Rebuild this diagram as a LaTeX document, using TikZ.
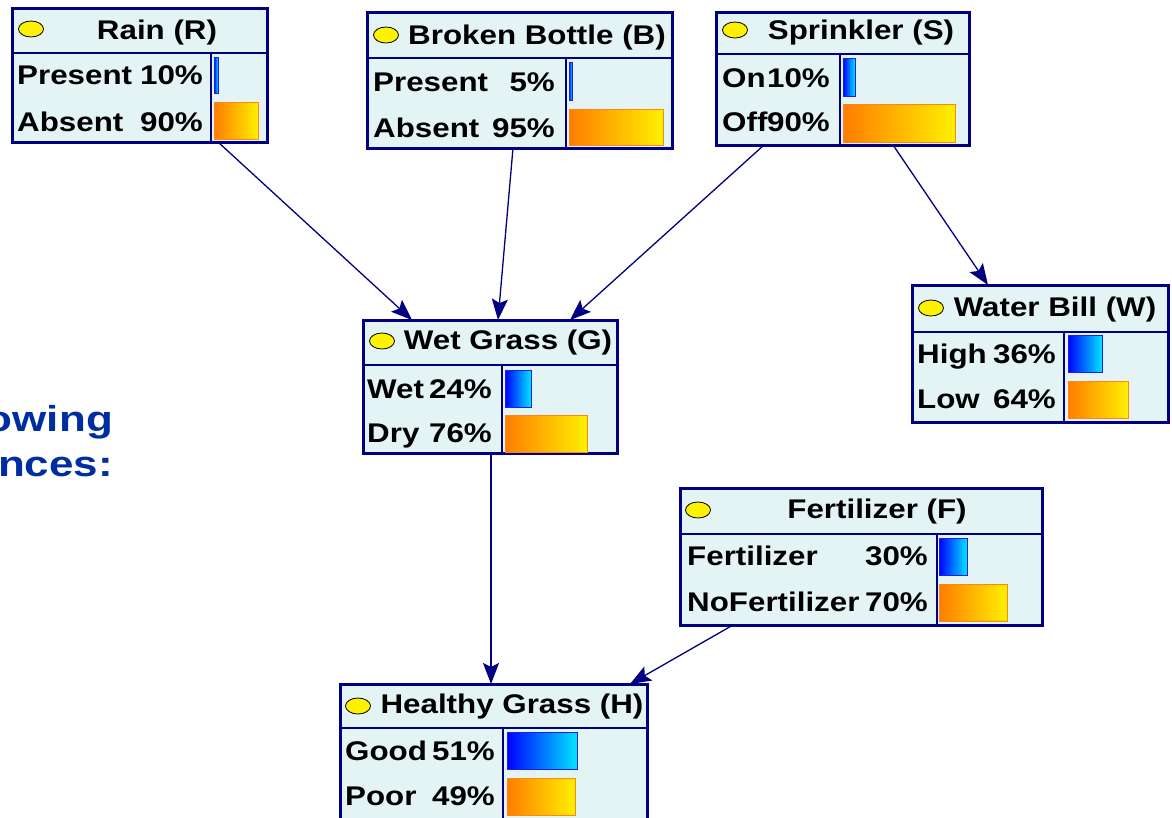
\documentclass[tikz,border=0pt]{standalone}
\usepackage{fontspec}
\usepackage{graphicx}
\setmainfont{Liberation Sans}
\usetikzlibrary{arrows.meta,shapes.geometric}

\definecolor{navy}{RGB}{0,0,128}
\definecolor{boxfill}{RGB}{228,244,244}
\definecolor{barblueA}{RGB}{0,0,255}
\definecolor{barblueB}{RGB}{0,230,255}
\definecolor{barblueE}{RGB}{30,30,230}
\definecolor{barorA}{RGB}{255,125,0}
\definecolor{barorB}{RGB}{255,240,0}
\definecolor{barorE}{RGB}{255,135,20}
\definecolor{slideblue}{RGB}{0,45,160}

\newcommand\netfont{\fontsize{27}{31}\selectfont\bfseries}
\newcommand\slidefont{\fontsize{36}{41}\selectfont\bfseries}
\newcommand\wide[1]{\scalebox{1.16}[1]{#1}}

% frame of a network node: name, x1, y1, x2, y2, title divider y, column divider x
\newcommand\netbox[7]{%
  \node[netframe, anchor=north west, minimum width={#4-#2}, minimum height={#5-#3}] (#1) at (#2,#3) {};
  \draw[divider] (#2,#6) -- (#4,#6);
  \draw[divider] (#7,#6) -- (#7,#5);
}
% one state row: name, label x, percent right x, baseline, label, percent
\newcommand\netrow[6]{%
  \node[lbl] (#1-l) at (#2,#4) {\wide{#5}};
  \node[pct] (#1-p) at (#3,#4) {\wide{#6}};
}

\begin{document}
\begin{tikzpicture}[x=1pt,y=-1pt,
  netframe/.style={draw=navy, line width=3pt, fill=boxfill, inner sep=0pt, outer sep=0pt},
  divider/.style={draw=navy, line width=1.5pt},
  lamp/.style={ellipse, draw=black, line width=0.8pt, fill=yellow,
    minimum width=25pt, minimum height=16pt, inner sep=0pt},
  ttl/.style={font=\netfont, anchor=base, inner sep=0pt},
  lbl/.style={font=\netfont, anchor=base west, inner sep=0pt},
  pct/.style={font=\netfont, anchor=base east, inner sep=0pt},
  bluebar/.style={left color=barblueA, right color=barblueB, draw=barblueE, line width=1pt},
  orangebar/.style={left color=barorA, right color=barorB, draw=barorE, line width=1pt},
  link/.style={draw=navy, line width=1.3pt, -{Stealth[length=21pt, width=16pt, inset=4pt]}},
  slide/.style={font=\slidefont, text=slideblue, anchor=base east, inner sep=0pt}]

\useasboundingbox (0,0) rectangle (1172,817);
\clip (0,0) rectangle (1172,817);

% slide text behind the network
\node[slide] (s1) at (113,431) {\scalebox{1.22}[1]{owing}};
\node[slide] (s2) at (113,476) {\scalebox{1.22}[1]{nces:}};

% Rain
\netbox{R}{12}{8}{267}{142}{53}{211}
\node[lamp] (R-e) at (31,29) {};
\node[ttl] (R-t) at (157,39) {\wide{Rain (R)}};
\netrow{R1}{17}{203}{84}{Present}{10\%}
\netrow{R2}{17}{203}{131}{Absent}{90\%}
\draw[bluebar] (214,57) rectangle (218,93);
\draw[orangebar] (214,102) rectangle (258,139);

% Broken Bottle
\netbox{B}{367}{12}{672}{148}{58}{566}
\node[lamp] (B-e) at (386,35) {};
\node[ttl] (B-t) at (537,44) {\wide{Broken Bottle (B)}};
\netrow{B1}{373}{555}{91}{Present}{5\%}
\netrow{B2}{373}{555}{137}{Absent}{95\%}
\draw[bluebar] (569,62) rectangle (572,100);
\draw[orangebar] (569,109) rectangle (663,145);

% Sprinkler
\netbox{S}{716}{12}{969}{145}{54}{840}
\node[lamp] (S-e) at (735,30) {};
\node[ttl] (S-t) at (861,39) {\wide{Sprinkler (S)}};
\netrow{S1}{722}{830}{87}{On}{10\%}
\netrow{S2}{722}{830}{131}{Off}{90\%}
\draw[bluebar] (843,58) rectangle (855,96);
\draw[orangebar] (843,104) rectangle (955,142);

% Wet Grass
\netbox{G}{363}{320}{617}{453}{365}{502}
\node[lamp] (G-e) at (382,341) {};
\node[ttl] (G-t) at (508,349) {\wide{Wet Grass (G)}};
\netrow{G1}{367}{492}{398}{Wet}{24\%}
\netrow{G2}{367}{492}{442}{Dry}{76\%}
\draw[bluebar] (505,370) rectangle (531,407);
\draw[orangebar] (505,415) rectangle (587,452);

% Water Bill
\netbox{W}{912}{285}{1168}{422}{332}{1064}
\node[lamp] (W-e) at (931,308) {};
\node[ttl] (W-t) at (1055,316) {\wide{Water Bill (W)}};
\netrow{W1}{917}{1056}{363}{High}{36\%}
\netrow{W2}{917}{1056}{408}{Low}{64\%}
\draw[bluebar] (1068,335) rectangle (1102,372);
\draw[orangebar] (1068,381) rectangle (1128,418);

% Fertilizer
\netbox{F}{680}{488}{1042}{625}{534}{937}
\node[lamp] (F-e) at (698,510) {};
\node[ttl] (F-t) at (877,518) {\wide{Fertilizer (F)}};
\netrow{F1}{687}{928}{565}{Fertilizer}{30\%}
\netrow{F2}{687}{928}{611}{NoFertilizer}{70\%}
\draw[bluebar] (939,538) rectangle (967,575);
\draw[orangebar] (939,584) rectangle (1007,621);

% Healthy Grass
\netbox{H}{340}{684}{647}{822}{728}{503}
\node[lamp] (H-e) at (358,706) {};
\node[ttl] (H-t) at (512,713) {\wide{Healthy Grass (H)}};
\netrow{H1}{345}{495}{760}{Good}{51\%}
\netrow{H2}{345}{495}{805}{Poor}{49\%}
\draw[bluebar] (507,732) rectangle (577,769);
\draw[orangebar] (507,778) rectangle (575,815);

% dependencies
\draw[link] ([xshift=206pt]R.south west) -- ([xshift=49pt]G.north west);
\draw[link] ([xshift=146pt]B.south west) -- ([xshift=135pt]G.north west);
\draw[link] ([xshift=48pt]S.south west) -- ([xshift=207pt]G.north west);
\draw[link] ([xshift=177pt]S.south west) -- ([xshift=76pt]W.north west);
\draw[link] ([xshift=128pt]G.south west) -- ([xshift=151pt]H.north west);
\draw[link] ([xshift=53pt]F.south west) -- ([xshift=290pt]H.north west);
\end{tikzpicture}
\end{document}
